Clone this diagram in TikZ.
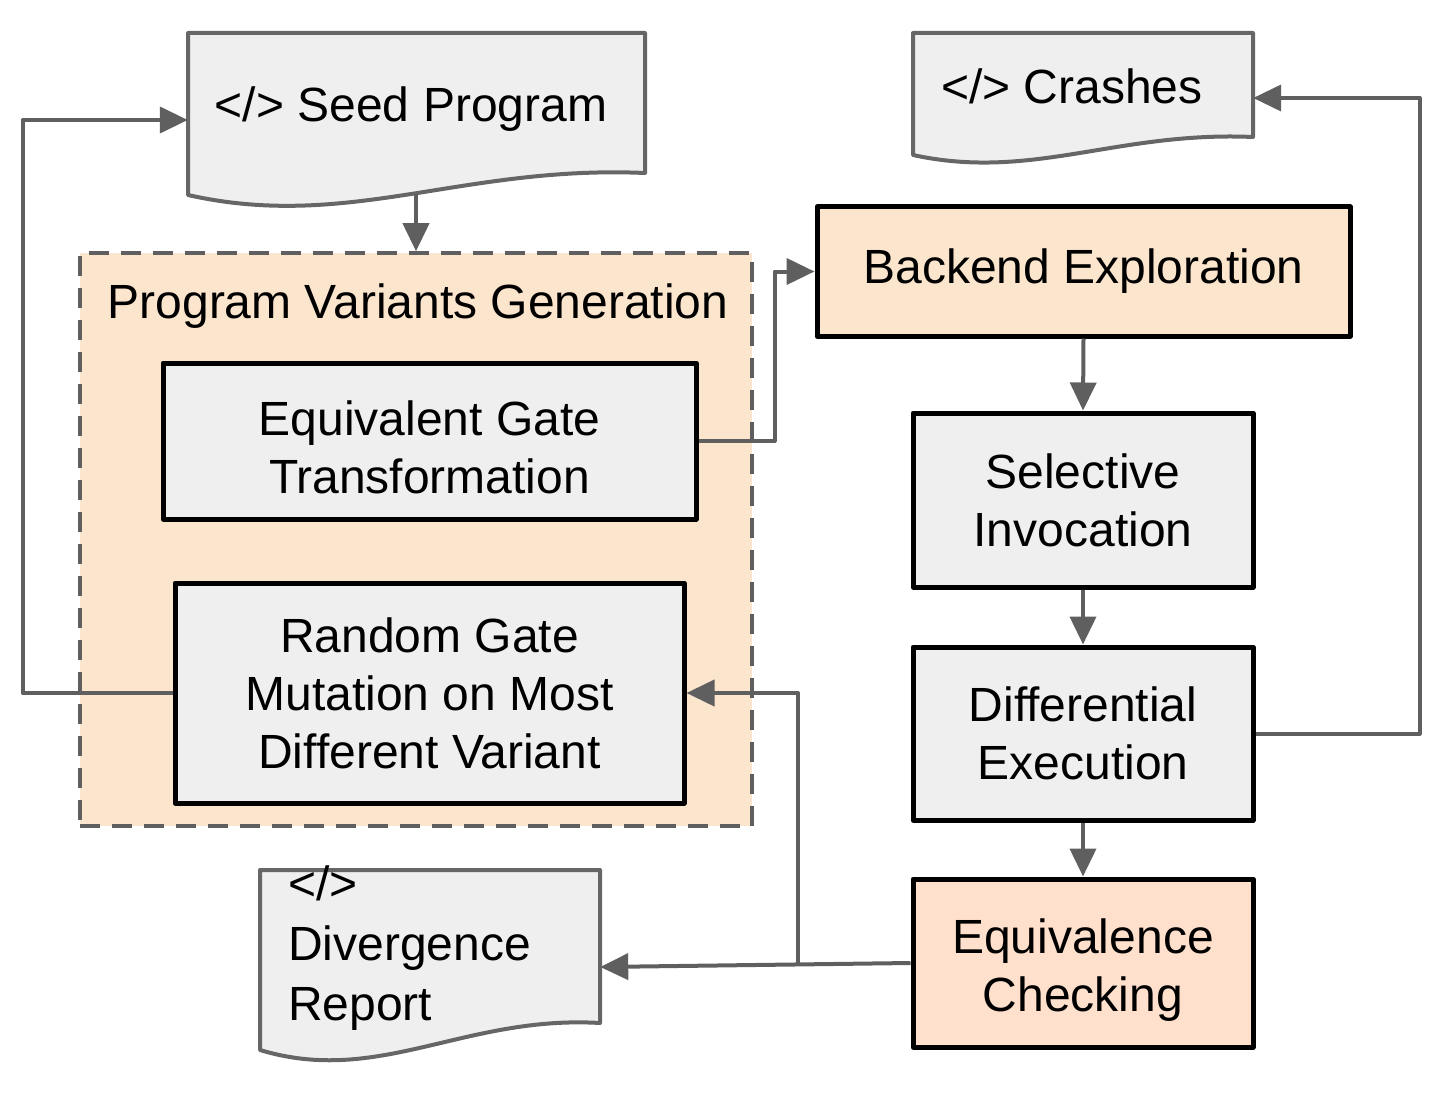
\documentclass[tikz,border=0pt]{standalone}
\usepackage{fontspec}
\setmainfont{Liberation Sans}
\usetikzlibrary{arrows.meta}
\definecolor{boxgray}{HTML}{EFEFEF}
\definecolor{peach}{HTML}{FCE5CD}
\definecolor{peachb}{HTML}{FFE0CC}
\definecolor{linegray}{HTML}{5F5F5F}
\definecolor{docline}{HTML}{666666}
\newcommand{\lowstrut}{\rule{0pt}{48pt}}
\begin{document}
\begin{tikzpicture}[x=1pt,y=-1pt,
  font=\fontsize{48}{58}\selectfont,
  procbox/.style={draw=black, line width=5pt, align=center, inner sep=0pt, line join=round},
  graybox/.style={procbox, fill=boxgray},
  peachbox/.style={procbox, fill=peach},
  peachboxb/.style={procbox, fill=peachb},
  groupbox/.style={draw=linegray, line width=3.5pt, dash pattern=on 20pt off 12pt, fill=peach, inner sep=0pt},
  docshape/.style={draw=docline, line width=4pt, fill=boxgray, line join=round},
  docanchor/.style={inner sep=0pt},
  conn/.style={draw=linegray, line width=4pt, line join=round, -{Triangle[length=28pt,width=26pt]}}
]
\useasboundingbox (0,0) rectangle (1448,1094);

% group
\node[groupbox, minimum width=672pt, minimum height=573pt] (pvg) at (416,539.5) {};
\node (pvgl) at (418,306) {Program Variants Generation};

% documents
\path[docshape] (188,33) -- (645,33) -- (645,173) .. controls (462,165) and (348,231) .. (188,195) -- cycle;
\node[docanchor, minimum width=457pt, minimum height=174pt] (seed) at (416.5,120) {};
\node[anchor=base] (seedt) at (411,122) {</> Seed Program};
\coordinate (seedb) at (416,194);

\path[docshape] (913,33) -- (1253,33) -- (1253,137) .. controls (1117,131) and (1032,181) .. (913,155) -- cycle;
\node[docanchor, minimum width=340pt, minimum height=130pt] (cr) at (1083,98) {};
\node[anchor=base] (crt) at (1072,104) {</> Crashes};

\path[docshape] (260,870) -- (600,870) -- (600,1023) .. controls (464,1015) and (379,1086) .. (260,1050) -- cycle;
\node[docanchor, minimum width=340pt, minimum height=194pt] (div) at (430,967) {};
\node[anchor=north west, align=left, inner sep=0pt, font=\fontsize{48}{60}\selectfont] (divt) at (288,866) {</>\\Divergence\\Report};

% process boxes
\node[graybox, minimum width=533pt, minimum height=156pt] (egt) at (429.5,441) {\lowstrut Equivalent Gate\\Transformation};
\node[graybox, minimum width=509pt, minimum height=220pt] (rgm) at (429.5,693) {Random Gate\\Mutation on Most\\Different Variant};
\node[peachbox, minimum width=533pt, minimum height=129pt] (be) at (1083.5,271.5) {Backend Exploration};
\node[graybox, minimum width=340pt, minimum height=174pt] (si) at (1083,500) {Selective\\Invocation};
\node[graybox, minimum width=340pt, minimum height=173pt] (de) at (1083,733.5) {Differential\\Execution};
\node[peachboxb, minimum width=340pt, minimum height=168pt] (ec) at (1083,963) {\lowstrut Equivalence\\Checking};

% connectors
\draw[conn] (seedb) -- (pvg.north);
\draw[conn] (rgm.west) -- ++(-150,0) |- (seed.west);
\draw[conn] (egt.east) -- ++(76,0) |- (be.west);
\draw[conn] (be.south) -- (si.north);
\draw[conn] (si.south) -- (de.north);
\draw[conn] (de.south) -- (ec.north);
\draw[conn] (de.east) -- ++(164,0) |- (cr.east);
\draw[conn] (ec.west) -- (div.east);
\coordinate (jn) at (798,964.5);
\draw[conn] (jn) |- (rgm.east);
\end{tikzpicture}
\end{document}
